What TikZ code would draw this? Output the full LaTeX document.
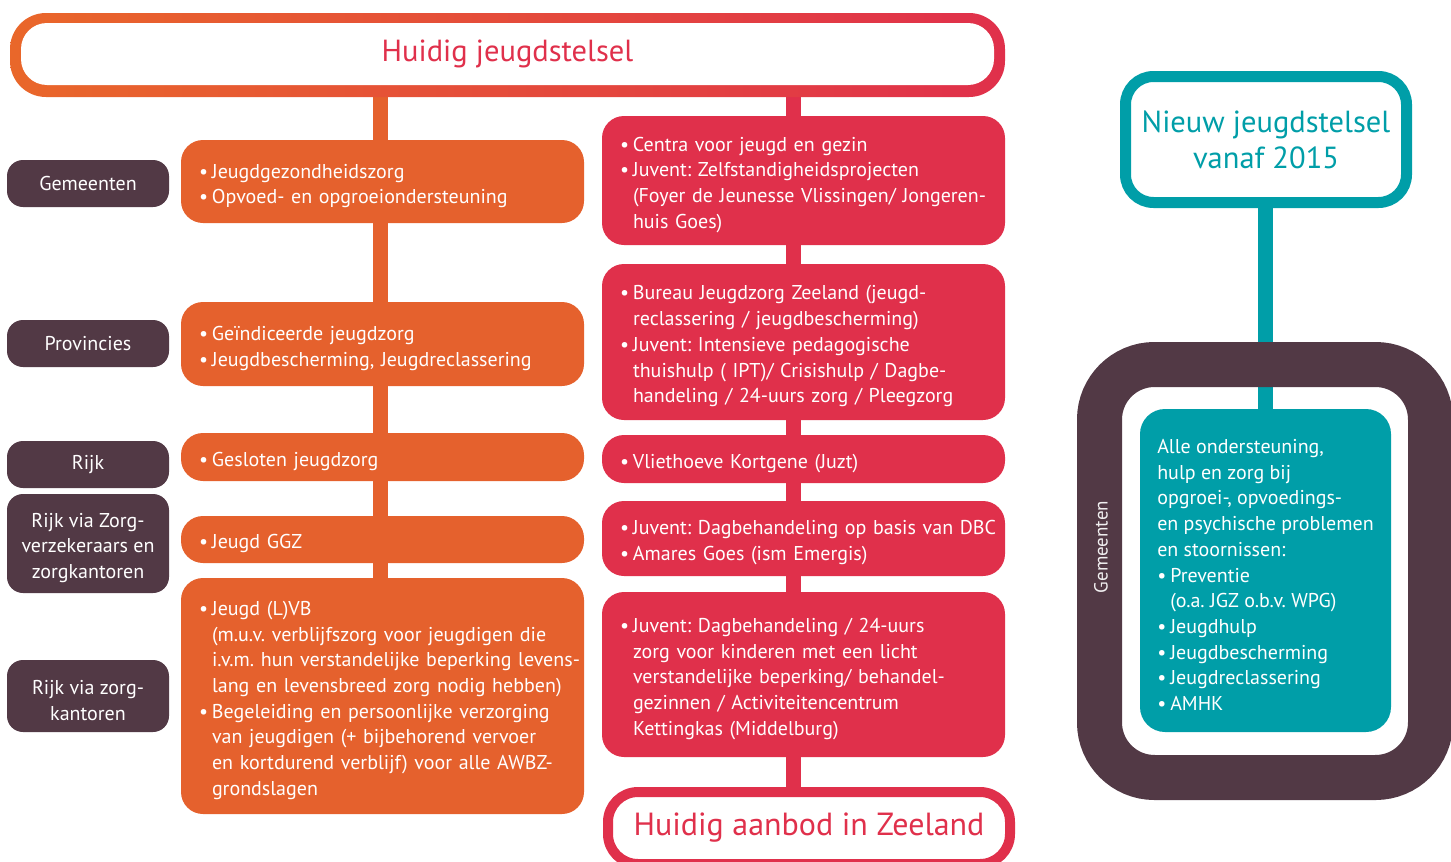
\documentclass[tikz,border=0pt]{standalone}
\usepackage{fontspec}
\setmainfont{PT Sans}
\usetikzlibrary{backgrounds,calc}
\definecolor{oranje}{HTML}{E5612D}
\definecolor{rood}{HTML}{E0304B}
\definecolor{bannerlinks}{HTML}{E9672A}
\definecolor{pruim}{HTML}{523945}
\definecolor{petrol}{HTML}{009EA8}
\frenchspacing
\newcommand{\boxfont}{\fontsize{20}{25.7}\selectfont}
\newcommand{\titelfont}{\fontsize{30.5}{36}\selectfont}
\newcommand{\blt}{\makebox[13pt][l]{\textbullet}}
\newcommand{\ind}{\hspace*{13pt}}
\newcommand{\omlaag}{\rule{0pt}{23pt}}

\begin{document}
\begin{tikzpicture}[x=1pt, y=-1pt,
		box/.style={rounded corners=22pt, text=white, align=left, minimum width=403pt, inner xsep=0.5pt, text width=402pt, font=\boxfont, execute at begin node={\leftskip=17.5pt\omlaag}},
		oz/.style={box, fill=oranje},
		rz/.style={box, fill=rood},
		lbl/.style={fill=pruim, rounded corners=16pt, text=white, align=center, minimum width=162pt, font=\boxfont},
		lijn/.style={line width=15pt}]
				%%%%% START %%%%%
				\useasboundingbox (0,0) rectangle (1451,862);
				\clip (0,0) rectangle (1451,862);
				
				\node[left color=bannerlinks, right color=rood, rounded corners=36pt, minimum width=995pt, minimum height=84pt] (banner) at (507.5,55) {};
				\node[fill=white, rounded corners=26pt, minimum width=973pt, minimum height=62pt, text=rood, font=\titelfont] (titel) at (507.5,54) {Huidig jeugdstelsel};
				
				% wie betaalt
				\node[lbl, minimum height=47pt] (gemeenten) at (88,183.5) {Gemeenten};
				\node[lbl, minimum height=47pt] (provincies) at (88,343.5) {Provincies};
				\node[lbl, minimum height=47pt] (rijk) at (88,464.5) {Rijk};
				\node[lbl, minimum height=99pt] (verzekeraars) at (88,543.5) {\omlaag Rijk via Zorg-\\verzekeraars en\\zorgkantoren};
				\node[lbl, minimum height=72pt] (kantoren) at (88,696) {\omlaag Rijk via zorg-\\kantoren};
				
				% huidig stelsel
				\node[oz, minimum height=83pt] (oz1) at (382.5,181.5) {\blt Jeugdgezondheidszorg\\\blt Opvoed- en opgroeiondersteuning};
				\node[oz, minimum height=84pt] (oz2) at (382.5,344) {\blt Geïndiceerde jeugdzorg\\\blt Jeugdbescherming, Jeugdreclassering};
				\node[oz, minimum height=48pt] (oz3) at (382.5,457) {\blt Gesloten jeugdzorg};
				\node[oz, minimum height=47pt] (oz4) at (382.5,539.5) {\blt Jeugd GGZ};
				\node[oz, minimum height=236pt] (oz5) at (382.5,696) {\blt Jeugd (L)VB\\\ind (m.u.v. verblijfszorg voor jeugdigen die\\\ind i.v.m. hun verstandelijke beperking levens-\\\ind lang en levensbreed zorg nodig hebben)\\\blt Begeleiding en persoonlijke verzorging\\\ind van jeugdigen (+ bijbehorend vervoer\\\ind en kortdurend verblijf) voor alle AWBZ-\\\ind grondslagen};
				
				% aanbod in Zeeland
				\node[rz, minimum height=129pt] (rz1) at (803.5,180.5) {\blt Centra voor jeugd en gezin\\\blt Juvent: Zelfstandigheidsprojecten\\\ind (Foyer de Jeunesse Vlissingen/ Jongeren-\\\ind huis Goes)};
				\node[rz, minimum height=156pt] (rz2) at (803.5,342) {\blt Bureau Jeugdzorg Zeeland (jeugd-\\\ind reclassering / jeugdbescherming)\\\blt Juvent: Intensieve pedagogische\\\ind thuishulp ( IPT)/ Crisishulp / Dagbe-\\\ind handeling / 24-uurs zorg / Pleegzorg};
				\node[rz, minimum height=48pt] (rz3) at (803.5,459) {\blt Vliethoeve Kortgene (Juzt)};
				\node[rz, minimum height=75pt] (rz4) at (803.5,538.5) {\blt Juvent: Dagbehandeling op basis van DBC\\\blt Amares Goes (ism Emergis)};
				\node[rz, minimum height=165pt] (rz5) at (803.5,674.5) {\blt Juvent: Dagbehandeling / 24-uurs\\\ind zorg voor kinderen met een licht\\\ind verstandelijke beperking/ behandel-\\\ind gezinnen / Activiteitencentrum\\\ind Kettingkas (Middelburg)};
				\node[draw=rood, line width=10pt, fill=white, rounded corners=30pt, minimum width=402pt, minimum height=72pt, text=rood, font=\fontsize{32}{36}\selectfont] (aanbod) at (809,828) {Huidig aanbod in Zeeland};
				
				% nieuw stelsel
				\node[draw=petrol, line width=11pt, fill=white, rounded corners=28pt, minimum width=281pt, minimum height=126pt, text=petrol, align=center, font=\titelfont] (nieuw) at (1266,139.5) {Nieuw jeugdstelsel\\vanaf 2015};
				\node[draw=pruim, line width=45pt, rounded corners=55pt, minimum width=331pt, minimum height=413pt] (kader) at (1265,571) {};
				\node[rotate=90, text=white!92!pruim, font=\fontsize{19}{23}\selectfont] (gemkader) at (1101,547) {Gemeenten};
				\node[fill=petrol, rounded corners=25pt, minimum width=251pt, minimum height=323pt, text=white, align=left, font=\boxfont] (alle) at (1265.5,570.5) {\omlaag Alle ondersteuning,\\hulp en zorg bij\\opgroei-, opvoedings-\\en psychische problemen\\en stoornissen:\\\blt Preventie\\\ind (o.a. JGZ o.b.v. WPG)\\\blt Jeugdhulp\\\blt Jeugdbescherming\\\blt Jeugdreclassering\\\blt AMHK};
				
				\begin{scope}[on background layer]
					\draw[oranje, lijn] ($(oz1.north |- banner.south)+(-2.5,0)$) -- ($(oz5.north)+(-2.5,0)$);
					\draw[rood, lijn] ($(rz1.north |- banner.south)+(-10.5,0)$) -- ($(rz1.north |- aanbod.north)+(-10.5,0)$);
					\draw[petrol, lijn] (alle.north |- nieuw.south) -- (alle.north);
				\end{scope}
				%%%%% END %%%%%
\end{tikzpicture}
\end{document}
